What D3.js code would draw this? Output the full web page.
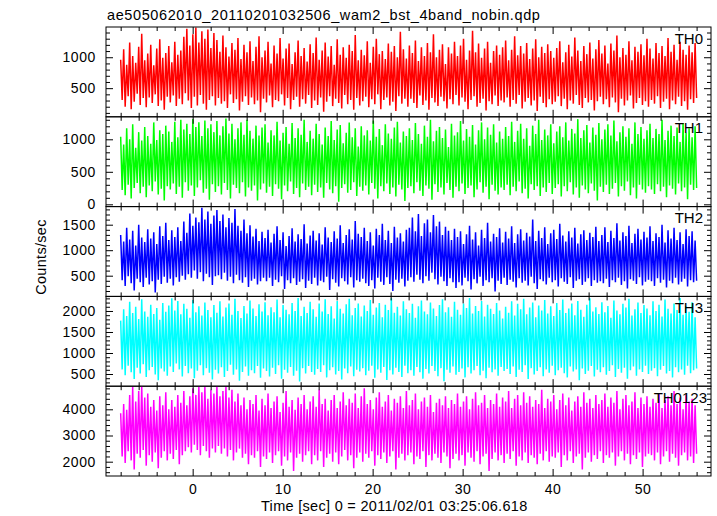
<!DOCTYPE html>
<html><head><meta charset="utf-8">
<script src="https://cdn.jsdelivr.net/npm/d3@7"></script>
<style>html,body{margin:0;padding:0;background:#fff;}svg{display:block;font-family:"Liberation Sans",Arial,sans-serif;}</style>
</head><body>
<script>
const title = "ae505062010_20110201032506_wam2_bst_4band_nobin.qdp";
const xLabel = "Time [sec] 0 = 2011/02/01 03:25:06.618";
const yLabel = "Counts/sec";
const panelNames = ["TH0","TH1","TH2","TH3","TH0123"];
const panelColors = ["#ff0000","#00ff00","#0000ff","#00ffff","#ff00ff"];
const timeRange = [-8, 56];
const xDomain = [-9.63, 57.6];
const xMajorTicks = [0,10,20,30,40,50];
const yDomains = [[37,1489],[-35,1346],[94,1855],[210,2347],[1454,4882]];
const yMajorTicks = [[500,1000],[0,500,1000],[500,1000,1500],[500,1000,1500,2000],[2000,3000,4000]];
const yMinorStep = [100,100,100,100,200];

// local peaks (Hi) and troughs (Lo) of each band, read along the time axis
const th0Hi = [960,1130,880,1240,1020,910,1170,1380,950,1060,1200,870,1140,1290,990,1070,
1180,920,1250,1040,1110,1330,1460,1190,1370,1480,1240,1420,1300,1450,1150,1390,
1280,1090,1350,1160,1010,1230,1120,1310,970,1200,1080,1260,940,1170,1340,1000,
1110,1250,900,1190,1060,1310,980,1140,1220,890,1080,1270,1020,1150,930,1210,
1070,1320,960,1110,1240,1010,1180,880,1290,1040,1160,990,1200,1100,1360,950,
1120,1030,1260,910,1170,1300,1050,1100,970,1220,1090,1180,1000,1410,1130,980,
1190,1070,1270,940,1160,1020,1230,1080,1370,1000,1120,1210,890,1160,1060,1250,
1020,1190,1300,960,1110,1430,1080,1220,990,1140,1250,910,1100,1190,1040,1160,
1270,950,1120,1340,1030,1180,1060,1230,970,1140,1290,1000,1170,1070,1210,1100,
990,1150,1260,920,1080,1200,1010,1320,1110,940,1180,1050,1240,980,1130,1280,
1060,1190,900,1220,1110,1350,1000,1150,1040,1260,950,1170,1090,1210,1030,1300,
1140,980,1230,1070,1180,1020,1310,1090,1200,960,1250,1120,1040,1190,1080,1230];
const th0Lo = [310,200,370,160,280,410,230,340,190,350,260,400,210,300,150,360,
270,380,210,330,240,420,300,180,360,220,390,250,150,310,370,220,
340,250,290,180,400,260,320,140,280,370,230,350,240,300,110,330,
270,380,190,310,290,400,220,340,160,310,360,200,320,250,390,180,
300,230,350,120,280,370,210,330,260,170,390,240,310,150,340,220,
290,360,190,320,240,400,160,310,350,220,280,130,370,250,330,200,
330,260,180,380,230,300,150,340,270,210,360,290,170,320,240,390,
220,350,280,160,310,370,200,260,330,140,290,240,380,210,300,270,
350,200,310,250,390,170,280,340,220,300,130,360,260,190,320,240,
280,370,210,330,160,300,250,390,230,180,340,270,310,140,290,360,
240,320,190,350,270,110,330,220,300,380,170,260,340,230,290,200,
310,250,370,180,280,330,160,300,240,360,210,290,150,320,260,340];
const th1Hi = [1040,920,1170,1000,1230,870,1110,980,1190,1050,930,1260,990,1140,1080,1210,
1120,960,1270,1030,1300,1150,1240,1080,1310,1190,1260,1050,1290,1170,1230,1110,
1280,1060,1200,1320,1090,1240,1000,1170,1260,1070,1300,1130,1010,1210,1060,1180,
1230,950,1140,1060,1270,980,1100,1190,930,1250,1020,1170,1070,1300,960,1130,
1010,1240,1080,920,1180,1050,1280,990,1150,1220,940,1100,1260,1030,1170,890,
1200,1060,1140,980,1290,1040,1160,910,1230,1090,1010,1180,1270,950,1120,1050,
1170,990,1250,1080,930,1210,1040,1300,970,1130,1190,1020,1150,880,1240,1060,
1110,1280,980,1160,1040,1220,920,1140,1260,1000,1180,1070,1230,950,1120,1010,
1190,1050,1270,960,1130,1240,1010,1170,900,1210,1080,1300,990,1150,1060,1230,
940,1120,1200,1030,1260,980,1160,1090,1310,1020,1140,1220,950,1180,1070,1250,
1000,1150,1230,1060,1290,970,1110,1200,1040,1170,930,1260,1080,1190,1010,1140,
1240,1020,1160,1080,1300,990,1130,1210,1050,1180,960,1250,1100,1170,1030,1200];
const th1Lo = [220,140,300,90,250,330,170,270,110,290,200,350,150,240,60,280,
230,320,160,270,100,340,210,290,130,260,370,180,240,70,310,190,
280,150,330,220,90,300,250,170,340,120,260,210,290,60,230,320,
180,270,130,310,240,80,290,200,350,160,250,110,320,220,270,140,
300,190,260,100,330,230,170,280,40,250,310,180,220,340,130,270,
210,290,150,330,240,90,280,200,320,160,260,120,300,230,50,250,
280,170,340,210,130,290,240,70,310,190,260,150,330,220,100,270,
200,320,160,250,290,110,230,340,180,270,80,300,210,150,260,220,
300,140,270,200,350,170,240,90,310,220,280,130,260,190,330,160,
250,310,120,280,200,340,150,260,100,290,230,170,320,210,60,270,
190,300,160,240,330,120,280,210,350,140,260,90,300,230,180,280,
230,160,310,200,270,110,290,240,150,320,200,260,80,300,220,250];
const th2Hi = [1300,1170,1440,1210,1380,1090,1500,1250,1160,1410,1230,1350,1120,1470,1280,1540,
1200,1390,1260,1450,1180,1560,1340,1720,1480,1640,1550,1830,1600,1760,1520,1680,
1790,1570,1700,1450,1630,1540,1810,1480,1380,1600,1330,1490,1270,1420,1180,1360,
1240,1400,1150,1320,1470,1200,1350,1080,1280,1430,1170,1310,1220,1510,1130,1290,
1380,1190,1330,1110,1450,1250,1160,1370,1230,1490,1140,1300,1410,1210,1570,1320,
1260,1440,1180,1350,1090,1420,1300,1520,1200,1380,1140,1460,1250,1330,1170,1400,
1440,1640,1370,1710,1280,1530,1600,1350,1690,1470,1560,1300,1460,1380,1200,1420,
1260,1370,1120,1310,1480,1210,1350,1090,1400,1240,1540,1170,1320,1260,1430,1150,
1360,1230,1470,1140,1310,1410,1190,1340,1270,1600,1180,1380,1240,1450,1120,1330,
1400,1220,1520,1290,1170,1370,1250,1440,1130,1310,1390,1200,1340,1260,1460,1180,
1300,1450,1160,1380,1240,1530,1190,1350,1280,1480,1140,1320,1420,1210,1360,1250,
1470,1180,1330,1260,1500,1150,1390,1230,1440,1200,1350,1120,1410,1280,1370,1190];
const th2Lo = [410,300,490,350,210,440,370,280,460,330,390,170,420,340,480,360,
440,310,470,380,500,420,530,460,600,440,570,390,540,470,320,490,
510,430,560,400,480,350,520,410,360,470,280,400,440,330,390,460,
390,460,300,420,370,490,240,410,350,450,320,380,430,260,400,340,
460,310,400,370,480,220,430,360,290,450,390,330,470,270,410,380,
440,350,300,410,250,460,380,320,470,340,200,420,360,440,290,400,
470,380,520,420,350,490,400,560,430,330,480,390,300,450,370,260,
370,310,460,390,230,430,350,480,300,410,370,450,190,400,340,460,
320,420,380,270,450,360,400,310,480,350,240,430,390,330,460,370,
410,290,450,380,340,470,260,400,430,320,380,450,300,410,360,390,
350,440,280,410,370,460,320,390,250,430,400,340,470,310,380,420,
390,300,450,360,420,270,400,350,460,330,380,440,290,410,370,400];
const th3Hi = [1770,2040,1880,2220,1950,2100,1810,2280,1990,1860,2150,1930,2070,1790,2190,1980,
2130,2300,2010,2240,1920,2170,2050,1840,2260,1970,2110,1890,2200,2020,1850,2140,
1960,2230,1870,2080,2180,1910,2290,2000,1830,2120,1940,2250,2060,1880,2160,1990,
2210,1900,2090,1970,2270,1850,2140,2030,1920,2190,2000,2310,1880,2100,1950,2220,
2040,1860,2180,1990,2280,1930,2110,1820,2240,2050,1940,2160,2290,1900,2070,2180,
1870,2130,2000,2260,1910,2080,2190,1850,2150,2020,2300,1960,2100,1890,2230,2040,
1950,2170,1840,2110,2250,1990,1920,2200,2060,1880,2140,2280,1970,2090,1860,2220,
2030,1910,2180,2070,2310,1940,2120,2000,2240,1870,2150,2050,1930,2190,2010,1820,
2100,1960,2230,1890,2170,2040,2290,1920,2080,2200,1850,2130,2010,2260,1940,2110,
1880,2190,2020,2270,1950,2060,2180,1900,2240,2030,1860,2150,2300,1990,2090,1930,
2210,1970,2120,1840,2250,2010,1920,2170,2080,2290,1890,2040,2200,1950,2140,2060,
1900,2230,2000,2150,1870,2270,2050,1940,2180,2020,2310,1910,2120,1980,2210,1850];
const th3Lo = [610,470,700,540,380,650,510,730,430,590,670,490,350,630,560,460,
680,550,750,610,440,690,520,630,400,580,710,470,640,530,370,600,
510,660,430,570,720,480,610,340,550,680,460,590,520,690,410,630,
570,440,650,500,710,390,600,530,670,460,580,320,640,510,690,550,
480,620,550,710,420,590,660,490,570,370,630,520,680,450,600,560,
640,470,580,700,410,610,530,670,360,590,490,650,550,430,700,520,
590,460,670,540,390,620,510,690,570,450,640,330,600,530,680,480,
550,630,420,660,510,590,690,470,580,400,650,540,610,460,670,570,
620,500,680,430,600,550,710,380,640,490,570,660,450,610,530,700,
470,590,650,520,420,680,560,610,350,630,500,580,690,440,600,540,
660,480,570,710,430,620,530,650,390,590,680,460,610,550,700,500,
580,640,450,600,690,510,570,420,660,540,610,480,700,520,590,630];
const th4Hi = [3850,4200,3980,4550,4850,4300,4700,4880,4450,4600,4100,4350,3950,4500,4150,4650,
4000,4350,4100,4550,4250,4700,4150,4500,4800,4550,4880,4650,4850,4400,4750,4600,
4880,4500,4700,4850,4450,4750,4300,4600,4150,4450,4000,4350,4200,4550,3950,4400,
4150,4600,4050,4300,4500,3900,4250,4700,4100,4350,3980,4450,4200,4550,4000,4300,
4500,4100,4750,4200,4400,3950,4350,4550,4050,4300,4650,4150,4400,4250,4600,4050,
4500,4800,4200,4350,4000,4450,4650,4100,4300,4550,3950,4400,4250,4500,4050,4700,
4150,4350,4600,4000,4300,4450,4100,4550,3900,4250,4400,4150,4500,4050,4350,4200,
4600,4100,4300,4500,4000,4400,4650,4150,4250,4550,4050,4350,4200,4600,4100,4450,
4300,4700,4050,4400,4550,4150,4650,4250,4500,4100,4350,4200,4750,4050,4400,4300,
4550,4000,4350,4600,4150,4450,3950,4300,4500,4100,4650,4250,4400,4050,4550,4200,
4350,4600,4100,4450,4250,4700,4000,4400,4550,4150,4300,4650,4050,4450,4200,4500,
4100,4400,4250,4600,4050,4350,4500,4150,4700,4200,4450,4000,4550,4300,4400,4150];
const th4Lo = [2200,1950,2400,2050,1700,2300,2150,2450,1850,2250,2000,2350,1750,2150,2400,2050,
2300,2100,2450,1900,2250,2400,2550,2350,2650,2450,2250,2600,2400,2150,2500,2350,
2600,2300,2500,2200,2450,2050,2350,2500,2150,2300,1900,2250,2150,2400,1800,2200,
2100,2350,1950,2250,2400,1850,2200,2050,2350,1650,2150,2300,2000,2250,2400,1900,
2250,2050,2400,1800,2150,2300,2000,2350,1900,2200,2450,2050,2250,1750,2150,2350,
2000,2300,2150,2400,1850,2250,2100,2350,1950,2200,2400,1700,2150,2300,2050,2250,
2350,1900,2200,2100,2400,1800,2250,2050,2300,2150,1950,2350,2200,1750,2100,2300,
2050,2250,1850,2350,2150,2000,2400,1900,2200,2300,1650,2100,2350,2050,2250,1950,
2300,2100,2400,1850,2200,2050,2350,1950,2250,2150,1900,2300,2050,2400,2000,2200,
2150,2350,1800,2250,2050,2400,1950,2200,2300,1700,2150,2350,2000,2250,2100,2400,
1950,2250,2150,2350,1850,2200,2400,2050,2300,1900,2250,2100,2350,1800,2200,2300,
2250,2050,2350,1900,2200,2400,2000,2300,2150,1850,2250,2350,2050,2200,1950,2300];
const seriesHi = [th0Hi, th1Hi, th2Hi, th3Hi, th4Hi];
const seriesLo = [th0Lo, th1Lo, th2Lo, th3Lo, th4Lo];

const W = 717, H = 516;
const plotL = 106, plotR = 711, plotT = 27, plotB = 476;
const ph = (plotB - plotT) / panelNames.length;

const svg = d3.select("body").append("svg").attr("width", W).attr("height", H);
svg.append("rect").attr("width", W).attr("height", H).attr("fill", "#fff");

const x = d3.scaleLinear().domain(xDomain).range([plotL, plotR]);
const xMinor = d3.range(timeRange[0], timeRange[1] + 0.001, 2).filter(v => v % 10 !== 0);

panelNames.forEach((name, p) => {
  const y0 = plotT + p * ph, y1 = y0 + ph;
  const y = d3.scaleLinear().domain(yDomains[p]).range([y1, y0]);
  const g = svg.append("g");
  const cid = "clip" + p;
  svg.append("clipPath").attr("id", cid).append("rect")
    .attr("x", plotL).attr("y", y0).attr("width", plotR - plotL).attr("height", ph);

  const hi = seriesHi[p], lo = seriesLo[p];
  const n = hi.length * 2;
  const pts = [];
  for (let i = 0; i < hi.length; i++) { pts.push(hi[i]); pts.push(lo[i]); }
  const data = pts.map((v, k) => ({t: timeRange[0] + k * (timeRange[1] - timeRange[0]) / (n - 1), v}));
  g.append("path").datum(data)
    .attr("clip-path", `url(#${cid})`)
    .attr("fill", "none").attr("stroke", panelColors[p]).attr("stroke-width", 1.5)
    .attr("stroke-linejoin", "miter").attr("stroke-miterlimit", 1.5)
    .attr("d", d3.line().x(d => x(d.t)).y(d => y(d.v)));

  g.append("rect").attr("x", plotL).attr("y", y0).attr("width", plotR - plotL).attr("height", ph)
    .attr("fill", "none").attr("stroke", "#000").attr("stroke-width", 1);

  const yMinorVals = d3.range(Math.ceil(yDomains[p][0] / yMinorStep[p]) * yMinorStep[p], yDomains[p][1], yMinorStep[p])
    .filter(v => !yMajorTicks[p].includes(v));

  const la = g.append("g").attr("transform", `translate(${plotL},0)`)
    .call(d3.axisLeft(y).tickValues(yMajorTicks[p]).tickSize(-7).tickPadding(10).tickFormat(d3.format("d")));
  la.select(".domain").remove();
  la.selectAll("text").attr("font-size", 14).attr("letter-spacing", 0.6).attr("fill", "#000")
    .attr("font-family", "Liberation Sans, Arial, sans-serif");
  const lm = g.append("g").attr("transform", `translate(${plotL},0)`)
    .call(d3.axisLeft(y).tickValues(yMinorVals).tickSize(-4).tickFormat(""));
  lm.select(".domain").remove();
  const ra = g.append("g").attr("transform", `translate(${plotR},0)`)
    .call(d3.axisRight(y).tickValues(yMajorTicks[p]).tickSize(-7).tickFormat(""));
  ra.select(".domain").remove();
  const rm = g.append("g").attr("transform", `translate(${plotR},0)`)
    .call(d3.axisRight(y).tickValues(yMinorVals).tickSize(-4).tickFormat(""));
  rm.select(".domain").remove();
  [[y0, d3.axisTop], [y1, d3.axisBottom]].forEach(([yy, ax]) => {
    const a = g.append("g").attr("transform", `translate(0,${yy})`)
      .call(ax(x).tickValues(xMajorTicks).tickSize(-7).tickFormat(""));
    a.select(".domain").remove();
    const b = g.append("g").attr("transform", `translate(0,${yy})`)
      .call(ax(x).tickValues(xMinor).tickSize(-4).tickFormat(""));
    b.select(".domain").remove();
  });

  g.append("text").attr("x", name === "TH0123" ? 707 : 703).attr("y", y0 + 16.5)
    .attr("text-anchor", "end").attr("font-size", 15).attr("fill", "#000").text(name);

  if (p === panelNames.length - 1) {
    const xa = g.append("g").attr("transform", `translate(0,${y1})`)
      .call(d3.axisBottom(x).tickValues(xMajorTicks).tickSize(0).tickPadding(8).tickFormat(d3.format("d")));
    xa.select(".domain").remove();
    xa.selectAll("text").attr("font-size", 14).attr("letter-spacing", 0.6).attr("fill", "#000")
      .attr("font-family", "Liberation Sans, Arial, sans-serif");
  }
});
svg.selectAll(".tick line").attr("stroke", "#000").attr("stroke-width", 1);

svg.append("text").attr("x", 107).attr("y", 19.5).attr("font-size", 14.5).attr("letter-spacing", 0.6)
  .attr("fill", "#000").text(title);
svg.append("text").attr("x", 261).attr("y", 511).attr("font-size", 14.5).attr("letter-spacing", 0.3)
  .attr("fill", "#000").text(xLabel);
svg.append("text").attr("transform", "translate(46,257) rotate(-90)").attr("text-anchor", "middle")
  .attr("font-size", 14.5).attr("letter-spacing", 0.3).attr("fill", "#000").text(yLabel);
</script>
</body></html>
